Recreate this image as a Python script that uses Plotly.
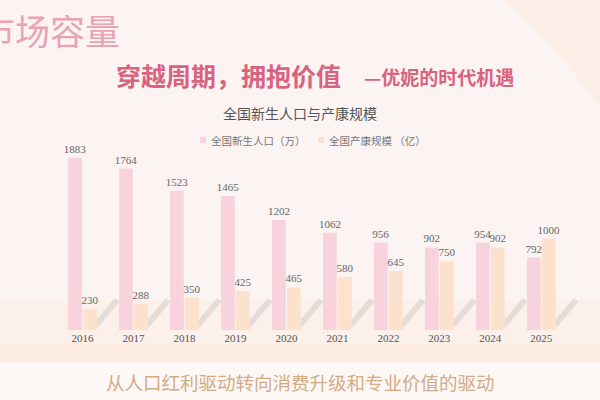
import plotly.graph_objects as go

years = ["2016", "2017", "2018", "2019", "2020", "2021", "2022", "2023", "2024", "2025"]
births = [1883, 1764, 1523, 1465, 1202, 1062, 956, 902, 954, 792]
postpartum = [230, 288, 350, 425, 465, 580, 645, 750, 902, 1000]
name_births = "全国新生人口（万）"
name_post = "全国产康规模 （亿）"
color_births = "#f8d2dc"
color_post = "#fce1cc"

W, H = 600, 400
L, R, T, B = 57, 21, 147, 70
PW, PH = W - L - R, H - T - B


def px(x):
    return (x - L) / PW


def py(y):
    return (H - B - y) / PH


fig = go.Figure()
fig.add_trace(go.Bar(
    x=years, y=births, name=name_births,
    marker=dict(color=color_births, line=dict(width=0)),
    text=births, textposition="outside", cliponaxis=False, constraintext="none",
    textfont=dict(family="Liberation Serif", size=11, color="#666666"),
))
fig.add_trace(go.Bar(
    x=years, y=postpartum, name=name_post,
    marker=dict(color=color_post, line=dict(width=0)),
    text=postpartum, textposition="outside", cliponaxis=False, constraintext="none",
    textfont=dict(family="Liberation Serif", size=11, color="#666666"),
))

shapes = []
# background top-right beige sweep
shapes.append(dict(
    type="path", xref="paper", yref="paper", layer="below",
    path=f"M {px(503)},{py(0)} Q {px(555)},{py(45)} {px(600)},{py(108)} L {px(600)},{py(0)} Z",
    fillcolor="#fcefe7", line=dict(width=0)))
# soft peach bands under the chart
shapes.append(dict(
    type="rect", xref="paper", yref="paper", layer="below",
    x0=px(0), x1=px(600), y0=py(300), y1=py(344),
    fillcolor="#fcf0ea", line=dict(width=0)))
shapes.append(dict(
    type="rect", xref="paper", yref="paper", layer="below",
    x0=px(0), x1=px(600), y0=py(344), y1=py(362),
    fillcolor="#fcebe1", line=dict(width=0)))
shapes.append(dict(
    type="rect", xref="paper", yref="paper", layer="below",
    x0=px(0), x1=px(600), y0=py(362), y1=py(400),
    fillcolor="#fdf8f6", line=dict(width=0)))
# 3D floor shadows between groups
for i in range(len(years)):
    shapes.append(dict(
        type="line", xref="x", yref="y", layer="below",
        x0=i + 0.26, y0=50, x1=i + 0.68, y1=330,
        line=dict(color="rgba(150,150,150,0.22)", width=6)))
# legend swatches
shapes.append(dict(type="rect", xref="paper", yref="paper",
                   x0=px(200), x1=px(206), y0=py(137), y1=py(143),
                   fillcolor=color_births, line=dict(width=0)))
shapes.append(dict(type="rect", xref="paper", yref="paper",
                   x0=px(318), x1=px(324), y0=py(137), y1=py(143),
                   fillcolor=color_post, line=dict(width=0)))

fig.update_layout(
    width=W, height=H,
    margin=dict(l=L, r=R, t=T, b=B),
    paper_bgcolor="#fbf4f3",
    plot_bgcolor="rgba(0,0,0,0)",
    barmode="group", bargap=0.41, bargroupgap=0.09,
    showlegend=False,
    xaxis=dict(showgrid=False, showline=False, zeroline=False, ticks="",
               tickfont=dict(family="Liberation Serif", size=11, color="#555555")),
    yaxis=dict(range=[0, 2000], visible=False),
    shapes=shapes,
    annotations=[
        dict(text="市场容量", xref="paper", yref="paper", x=px(122), y=py(30),
             xanchor="right", yanchor="middle", showarrow=False,
             font=dict(family="Noto Sans CJK SC", size=35, color="#e9a3b3")),
        dict(text="<b>穿越周期，拥抱价值</b>", xref="paper", yref="paper", x=px(114), y=py(75),
             xanchor="left", yanchor="middle", showarrow=False,
             font=dict(family="Noto Sans CJK SC", size=25, color="#d9627f")),
        dict(text="<b>—优妮的时代机遇</b>", xref="paper", yref="paper", x=px(362), y=py(76),
             xanchor="left", yanchor="middle", showarrow=False,
             font=dict(family="Noto Sans CJK SC", size=19, color="#d9627f")),
        dict(text="全国新生人口与产康规模", xref="paper", yref="paper", x=px(300), y=py(113),
             xanchor="center", yanchor="middle", showarrow=False,
             font=dict(family="Noto Sans CJK SC", size=14, color="#555555")),
        dict(text=name_births, xref="paper", yref="paper", x=px(209), y=py(140),
             xanchor="left", yanchor="middle", showarrow=False,
             font=dict(family="Noto Sans CJK SC", size=10.5, color="#777777")),
        dict(text=name_post, xref="paper", yref="paper", x=px(327), y=py(140),
             xanchor="left", yanchor="middle", showarrow=False,
             font=dict(family="Noto Sans CJK SC", size=10.5, color="#777777")),
        dict(text="从人口红利驱动转向消费升级和专业价值的驱动", xref="paper", yref="paper",
             x=px(300), y=py(382), xanchor="center", yanchor="middle", showarrow=False,
             font=dict(family="Noto Sans CJK SC", size=18.5, color="#d2ab85")),
    ],
)

fig.write_html("out.html", config={"displayModeBar": False},
               post_script="document.body.style.margin='0';document.body.style.overflow='hidden';")
